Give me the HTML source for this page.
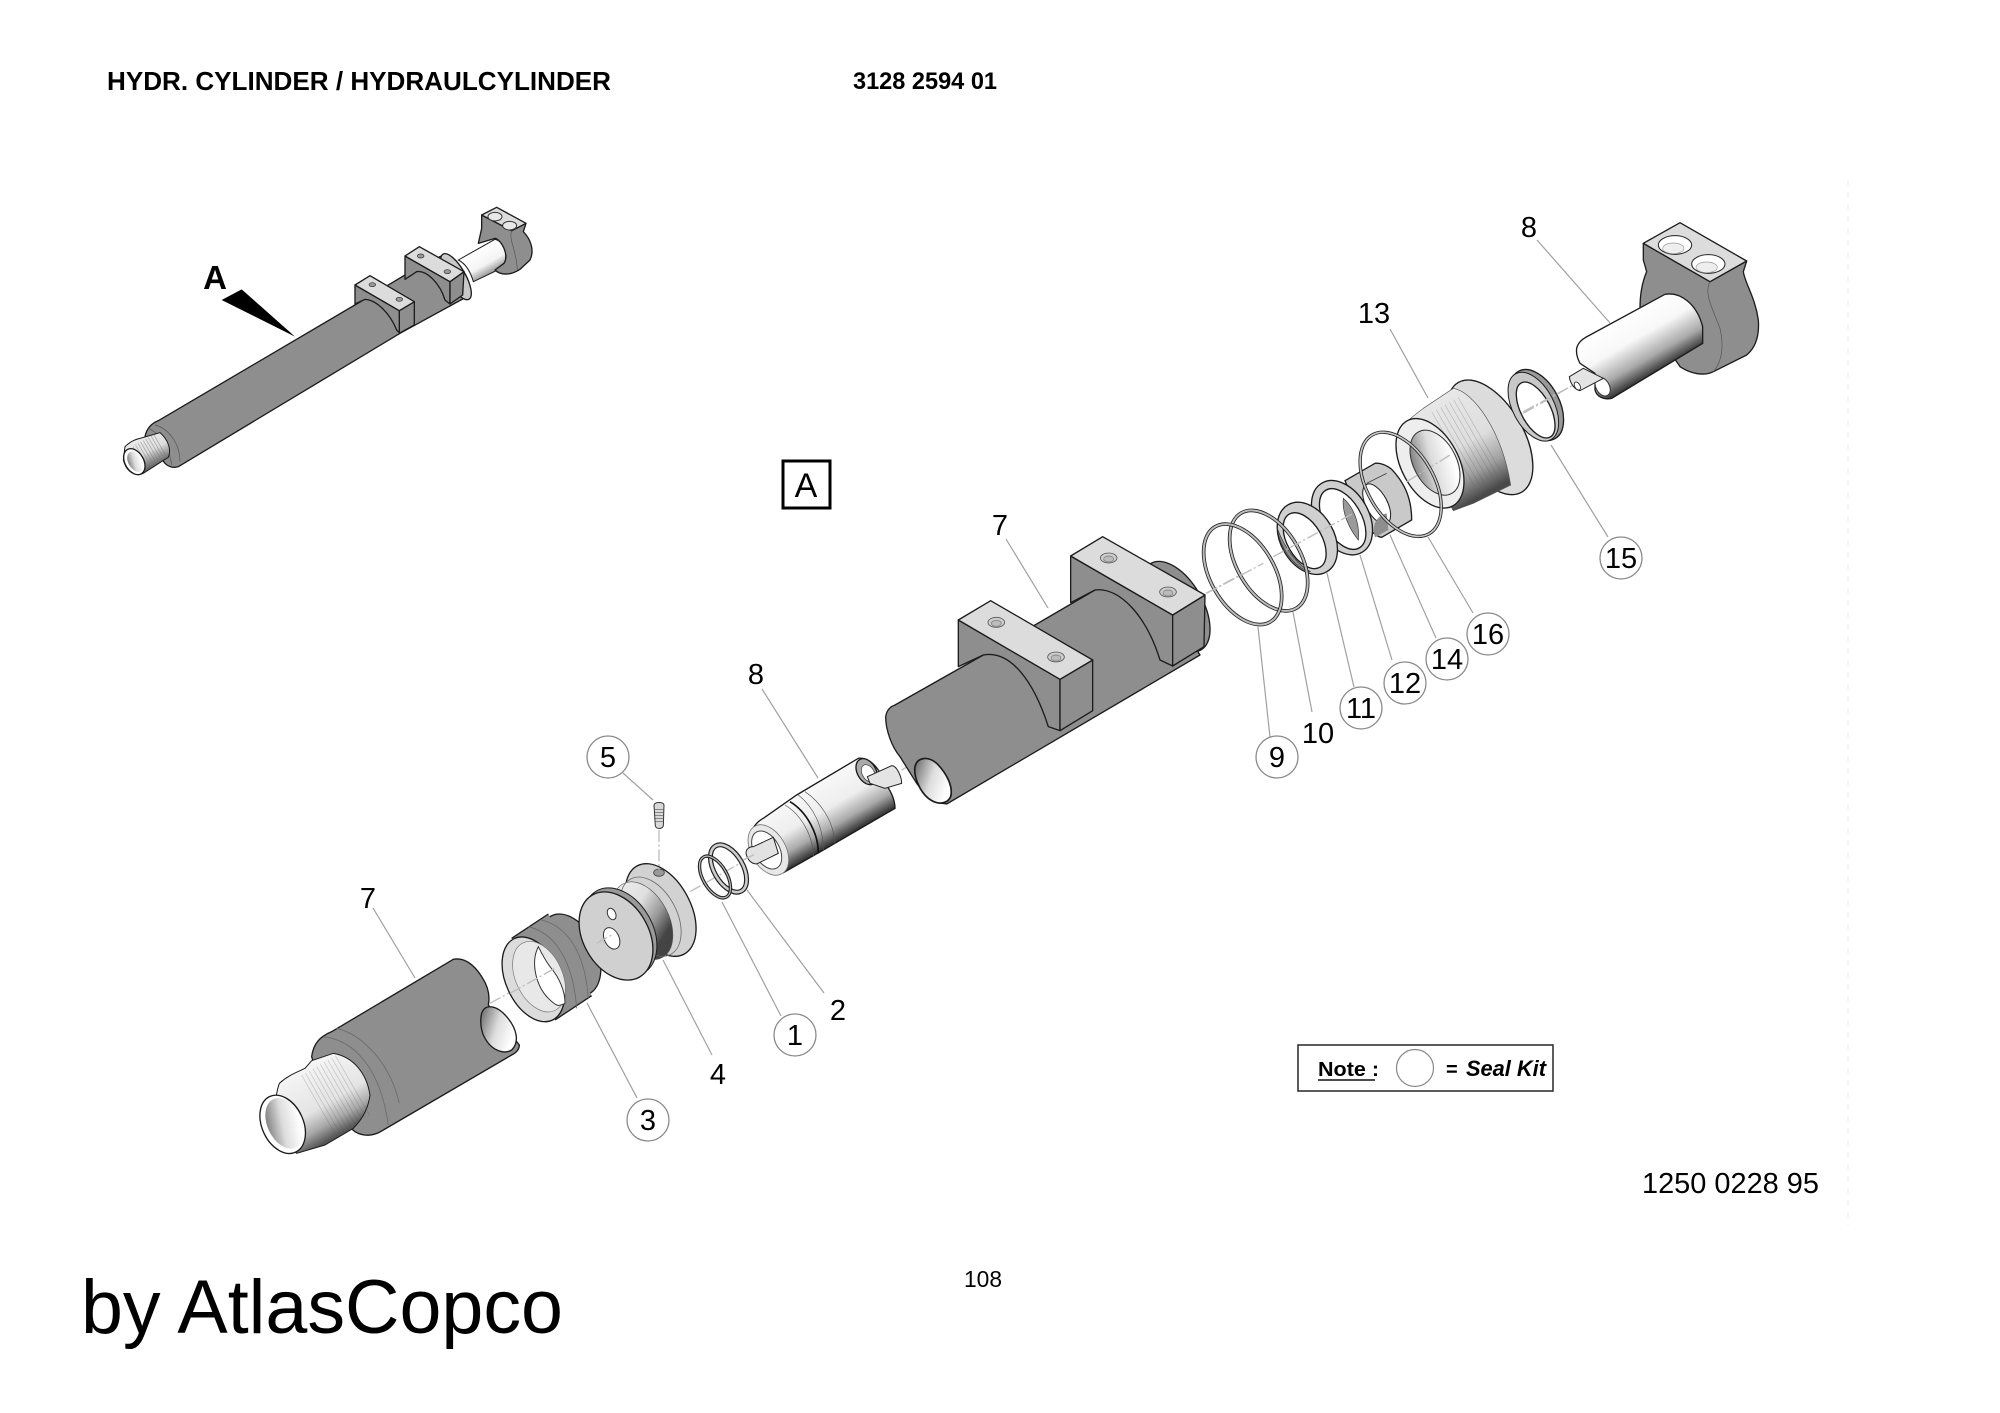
<!DOCTYPE html>
<html><head><meta charset="utf-8"><style>
html,body{margin:0;padding:0;background:#fff;width:2000px;height:1413px;overflow:hidden}
svg{display:block}
text{font-family:"Liberation Sans",sans-serif;fill:#000}
.n{font-size:29px;text-anchor:middle}
.c{fill:#fff;stroke:#8a8a8a;stroke-width:1.3}
.l{stroke:#a0a0a0;stroke-width:1.2;fill:none}
.d{stroke:#bdbdbd;stroke-width:4;stroke-dasharray:36 8 6 8;fill:none}
.g{fill:#8e8e8e;stroke:#1c1c1c;stroke-width:4;stroke-linejoin:round}
.t{fill:#dcdcdc;stroke:#1c1c1c;stroke-width:4;stroke-linejoin:round}
.m{fill:#c9c9c9;stroke:#1c1c1c;stroke-width:4}
.w{fill:#fff;stroke:#1c1c1c;stroke-width:4}
.s{fill:none;stroke:#555;stroke-width:2}
.o{fill:none;stroke:#6b6b6b;stroke-width:2.5}
</style></head><body>
<svg width="2000" height="1413" viewBox="0 0 2000 1413" xmlns="http://www.w3.org/2000/svg">
<defs>
<linearGradient id="hole" x1="0" y1="0" x2="1" y2=".4"><stop offset="0" stop-color="#666"/><stop offset=".55" stop-color="#ddd"/><stop offset="1" stop-color="#fff"/></linearGradient>
<linearGradient id="ovr" gradientUnits="userSpaceOnUse" x1="1190" y1="210" x2="1235" y2="290"><stop offset="0" stop-color="#fff"/><stop offset=".55" stop-color="#f4f4f4"/><stop offset="1" stop-color="#777"/></linearGradient>
<linearGradient id="ovt" gradientUnits="userSpaceOnUse" x1="170" y1="770" x2="215" y2="860"><stop offset="0" stop-color="#eee"/><stop offset=".55" stop-color="#ddd"/><stop offset="1" stop-color="#666"/></linearGradient>
<linearGradient id="t7" gradientUnits="userSpaceOnUse" x1="200" y1="1045" x2="310" y2="1236"><stop offset="0" stop-color="#f4f4f4"/><stop offset=".55" stop-color="#e4e4e4"/><stop offset=".8" stop-color="#a8a8a8"/><stop offset="1" stop-color="#555"/></linearGradient>
<linearGradient id="p4" gradientUnits="userSpaceOnUse" x1="1170" y1="470" x2="1275" y2="655"><stop offset="0" stop-color="#eee"/><stop offset=".45" stop-color="#e0e0e0"/><stop offset=".75" stop-color="#9a9a9a"/><stop offset="1" stop-color="#444"/></linearGradient>
<linearGradient id="r8" gradientUnits="userSpaceOnUse" x1="300" y1="845" x2="390" y2="1001"><stop offset="0" stop-color="#f8f8f8"/><stop offset=".45" stop-color="#eee"/><stop offset=".75" stop-color="#aaa"/><stop offset="1" stop-color="#333"/></linearGradient>
<linearGradient id="r8t" gradientUnits="userSpaceOnUse" x1="330" y1="405" x2="428" y2="575"><stop offset="0" stop-color="#fff"/><stop offset=".4" stop-color="#f8f8f8"/><stop offset=".75" stop-color="#aaa"/><stop offset="1" stop-color="#333"/></linearGradient>
<linearGradient id="b13" gradientUnits="userSpaceOnUse" x1="780" y1="120" x2="940" y2="400"><stop offset="0" stop-color="#e8e8e8"/><stop offset=".5" stop-color="#dedede"/><stop offset=".78" stop-color="#a0a0a0"/><stop offset="1" stop-color="#4a4a4a"/></linearGradient>
</defs>
<rect width="2000" height="1413" fill="#fff"/>
<line x1="1848" y1="180" x2="1848" y2="1225" stroke="#f6f6f6" stroke-width="2" stroke-dasharray="6 6"/>

<!-- header -->
<text x="107" y="90" font-size="26" font-weight="700" textLength="504" lengthAdjust="spacingAndGlyphs">HYDR. CYLINDER / HYDRAULCYLINDER</text>
<text x="853" y="89" font-size="24" font-weight="700" textLength="144" lengthAdjust="spacingAndGlyphs">3128 2594 01</text>

<!-- overview -->
<g transform="translate(80,180) scale(.33333)">
<path class="g" d="M195,770C200,745 215,730 235,722L850,360L1000,270L1090,225L1170,345L960,460L295,860C280,865 265,860 255,850Z"/>
<path class="s" d="M225,735C265,745 300,790 300,845M205,745C240,760 270,810 275,855"/>
<path d="M135,800C150,785 165,778 180,775L240,758C265,780 275,810 265,832L190,880C170,890 140,880 130,840Z" fill="url(#ovt)" stroke="#1c1c1c" stroke-width="3"/>
<path d="M175,830L245,790" stroke="#666" stroke-width="70" stroke-dasharray="2 7" fill="none" opacity=".5"/>
<ellipse class="w" cx="163" cy="845" rx="28" ry="42" transform="rotate(-30 163 845)"/>
<ellipse cx="166" cy="845" rx="21" ry="33" fill="url(#hole)" transform="rotate(-30 166 845)"/>
<ellipse class="m" cx="1128" cy="290" rx="28" ry="78" transform="rotate(-30 1128 290)"/>
<path d="M1135,240L1245,178C1275,185 1285,225 1270,262L1180,305C1170,270 1155,250 1135,240Z" fill="url(#ovr)" stroke="#1c1c1c" stroke-width="3"/>
<path class="g" d="M1205,105L1205,145L1195,190L1245,175C1265,180 1288,225 1272,250L1245,270C1260,285 1290,288 1320,268L1350,240C1365,210 1350,175 1330,155L1338,130L1295,152Z"/>
<path class="t" d="M1205,105L1250,82L1338,130L1295,152Z"/>
<ellipse cx="1245" cy="110" rx="21" ry="13" fill="#e8e8e8" stroke="#333" stroke-width="3"/>
<ellipse cx="1289" cy="137" rx="21" ry="13" fill="#e8e8e8" stroke="#333" stroke-width="3"/>
<path class="s" d="M1295,152C1285,180 1310,210 1312,270"/>
<path class="g" d="M975,228L975,298L1010,275C1040,270 1080,310 1095,360L1110,372L1110,305Z"/>
<path class="g" d="M1110,305L1152,275L1148,345L1110,372Z"/>
<path class="t" d="M975,228L1018,200L1152,275L1110,305Z"/>
<ellipse cx="1022" cy="228" rx="10" ry="6" fill="#999" stroke="#333" stroke-width="2"/>
<ellipse cx="1102" cy="275" rx="10" ry="6" fill="#999" stroke="#333" stroke-width="2"/>
<path class="g" d="M825,315L825,372L855,358C890,360 930,400 950,450L960,460L958,392Z"/>
<path class="g" d="M958,392L1003,365L1003,435L958,460Z"/>
<path class="t" d="M825,315L870,287L1003,365L958,392Z"/>
<ellipse cx="877" cy="314" rx="10" ry="6" fill="#999" stroke="#333" stroke-width="2"/>
<ellipse cx="958" cy="358" rx="10" ry="6" fill="#999" stroke="#333" stroke-width="2"/>
<path d="M425,360L485,328L645,470Z" fill="#000"/>
</g>
<text x="215" y="289" font-size="33" font-weight="700" text-anchor="middle">A</text>

<!-- boxed A -->
<rect x="783" y="461" width="47" height="47" fill="#fff" stroke="#000" stroke-width="3"/>
<text x="806" y="497" font-size="34" text-anchor="middle">A</text>

<!-- lower cylinder, ring 3, piston, screw -->
<g transform="translate(240,720) scale(.33333)">
<path class="d" d="M750,850L950,740"/>
<path class="g" d="M215,1010C220,970 240,950 275,935L640,718C670,712 700,730 725,770C745,800 750,830 745,855L838,975C838,990 825,1000 815,1005L430,1230C400,1250 370,1250 345,1235C300,1200 240,1100 215,1010Z"/>
<path class="o" d="M250,950C340,960 420,1040 445,1215M290,925C370,945 450,1030 478,1150"/>
<path class="w" d="M725,880C735,850 770,855 800,890C830,925 840,965 815,990C790,1005 750,990 730,945C722,925 720,900 725,880Z" style="fill:url(#hole)"/>
<path d="M118,1090C145,1065 175,1055 195,1045L215,1022L280,1000C340,1010 380,1060 390,1125C385,1165 365,1200 340,1225L255,1275L170,1300C120,1260 90,1170 118,1090Z" fill="url(#t7)" stroke="#1c1c1c" stroke-width="3"/>
<path d="M235,1155L345,1092" stroke="#555" stroke-width="205" stroke-dasharray="2 11" fill="none" opacity=".3"/>
<ellipse class="w" cx="128" cy="1213" rx="62" ry="92" transform="rotate(-25 128 1213)"/>
<ellipse cx="134" cy="1210" rx="52" ry="80" fill="url(#hole)" transform="rotate(-25 134 1210)"/>

<!-- ring 3 -->
<ellipse class="g" cx="990" cy="705" rx="82" ry="130" transform="rotate(-25 990 705)"/>
<path d="M815,655L925,582L1055,827L945,900Z" fill="#8e8e8e"/>
<path d="M815,655L925,582M945,900L1055,827" stroke="#1c1c1c" stroke-width="4"/>
<path class="o" d="M865,620C950,640 1000,730 1010,865M905,600C985,620 1035,700 1045,835"/>
<ellipse class="t" cx="880" cy="778" rx="82" ry="135" transform="rotate(-25 880 778)"/>
<ellipse cx="897" cy="770" rx="70" ry="112" fill="#e8e8e8" stroke="#777" stroke-width="2" transform="rotate(-25 897 770)"/>
<path d="M895,680C905,700 915,720 930,740C960,775 975,815 975,850C955,860 950,860 925,835C890,800 870,730 895,680Z" fill="#fff" stroke="#333" stroke-width="3"/>
<path class="d" d="M810,820L950,742"/>

<!-- piston 4 -->
<ellipse cx="1262" cy="570" rx="90" ry="150" fill="#d2d2d2" stroke="#1c1c1c" stroke-width="4" transform="rotate(-28 1262 570)"/>
<ellipse cx="1208" cy="602" rx="78" ry="125" fill="url(#p4)" stroke="#555" stroke-width="2" transform="rotate(-28 1208 602)"/>
<ellipse class="o" cx="1232" cy="590" rx="78" ry="128" transform="rotate(-28 1232 590)"/>
<ellipse cx="1140" cy="636" rx="98" ry="142" fill="#999" stroke="#1c1c1c" stroke-width="3" transform="rotate(-30 1140 636)"/>
<ellipse cx="1128" cy="648" rx="98" ry="142" fill="#d0d0d0" stroke="#1c1c1c" stroke-width="4" transform="rotate(-30 1128 648)"/>
<ellipse cx="1115" cy="582" rx="12" ry="18" fill="#fff" stroke="#333" stroke-width="3" transform="rotate(-25 1115 582)"/>
<ellipse cx="1115" cy="655" rx="22" ry="34" fill="#fff" stroke="#333" stroke-width="3" transform="rotate(-25 1115 655)"/>
<ellipse cx="1257" cy="458" rx="16" ry="11" fill="#999" stroke="#444" stroke-width="2.5"/>
<path class="d" d="M1070,670L1120,642"/>
<path class="d" d="M1257,330L1257,448"/>
<path class="d" d="M1350,515L1500,430"/>
<path d="M1242,255C1245,245 1270,245 1272,255L1270,318C1265,328 1250,328 1246,318Z" fill="#d8d8d8" stroke="#333" stroke-width="3"/>
<path d="M1245,268L1271,268M1245,277L1271,277M1245,286L1271,286M1245,295L1271,295M1245,304L1271,304" stroke="#555" stroke-width="2"/>
</g>

<!-- rings 1,2 -->
<g fill="none">
<ellipse cx="728.5" cy="868.5" rx="14.5" ry="26" stroke="#222" stroke-width="5" transform="rotate(-30 728.5 868.5)"/>
<ellipse cx="728.5" cy="868.5" rx="14.5" ry="26" stroke="#ccc" stroke-width="2.6" transform="rotate(-30 728.5 868.5)"/>
<ellipse cx="715" cy="877" rx="12" ry="23" stroke="#222" stroke-width="3.4" transform="rotate(-30 715 877)"/>
<ellipse cx="715" cy="877" rx="12" ry="23" stroke="#bbb" stroke-width="1.2" transform="rotate(-30 715 877)"/>
</g>

<!-- rod 8 lower + upper 7 -->
<g transform="translate(720,500) scale(.33333)">
<path class="d" d="M545,810L610,772"/>
<ellipse class="g" cx="1368" cy="320" rx="80" ry="150" transform="rotate(-30 1368 320)"/>
<path class="g" d="M497,650C500,630 510,620 525,615L790,465L945,375L1125,270L1300,250L1440,465L680,912C650,910 620,890 590,850L540,770C515,740 497,690 497,650Z"/>
<path d="M585,800C590,775 620,765 650,790C680,820 700,860 692,890C680,915 650,915 625,895C600,875 580,830 585,800Z" fill="url(#hole)" stroke="#1c1c1c" stroke-width="5"/>
<path class="g" d="M715,360L715,500L790,465C870,450 940,540 985,680L1020,692L1020,538Z"/>
<path class="g" d="M1020,538L1118,480L1118,632L1020,692Z"/>
<path class="t" d="M715,360L812,302L1118,480L1020,538Z"/>
<ellipse cx="829" cy="367" rx="25" ry="15" fill="#ccc" stroke="#555" stroke-width="2.5"/>
<ellipse cx="829" cy="370" rx="15" ry="9" fill="#bbb" stroke="#777" stroke-width="2"/>
<ellipse cx="1008" cy="471" rx="25" ry="15" fill="#ccc" stroke="#555" stroke-width="2.5"/>
<ellipse cx="1008" cy="474" rx="15" ry="9" fill="#bbb" stroke="#777" stroke-width="2"/>
<path class="g" d="M1052,168L1052,308L1125,270C1200,260 1280,350 1320,480L1358,498L1358,345Z"/>
<path class="g" d="M1358,345L1455,285L1452,440L1358,498Z"/>
<path class="t" d="M1052,168L1148,110L1455,285L1358,345Z"/>
<ellipse cx="1166" cy="174" rx="25" ry="15" fill="#ccc" stroke="#555" stroke-width="2.5"/>
<ellipse cx="1166" cy="177" rx="15" ry="9" fill="#bbb" stroke="#777" stroke-width="2"/>
<ellipse cx="1344" cy="276" rx="25" ry="15" fill="#ccc" stroke="#555" stroke-width="2.5"/>
<ellipse cx="1344" cy="279" rx="15" ry="9" fill="#bbb" stroke="#777" stroke-width="2"/>
<path class="d" d="M1458,280L1560,225"/>

<path d="M90,1010C95,985 110,965 130,955L230,885L415,775C445,770 475,800 490,840C510,870 525,895 525,925L310,1050L190,1118C150,1120 100,1080 90,1010Z" fill="url(#r8)" stroke="#1c1c1c" stroke-width="4"/>
<path class="s" d="M235,885C280,920 310,980 310,1050M195,915C245,945 280,1010 280,1070M255,875C300,905 340,960 345,1030" />
<path d="M210,905C260,935 295,1000 295,1060" fill="none" stroke="#111" stroke-width="5"/>
<ellipse cx="145" cy="1050" rx="52" ry="82" fill="#e8e8e8" stroke="#777" stroke-width="2.5" transform="rotate(-30 145 1050)"/>
<ellipse cx="140" cy="1050" rx="38" ry="62" fill="#fff" stroke="#444" stroke-width="3" transform="rotate(-30 140 1050)"/>
<path d="M78,1060C78,1045 90,1040 100,1040L160,1012L175,1060L110,1092C95,1092 82,1080 78,1060Z" fill="#e2e2e2" stroke="#222" stroke-width="3"/>
<ellipse cx="440" cy="815" rx="28" ry="42" fill="#aaa" stroke="#1c1c1c" stroke-width="4" transform="rotate(-30 440 815)"/>
<ellipse cx="445" cy="820" rx="18" ry="28" fill="#fff" stroke="#333" stroke-width="2" transform="rotate(-30 445 820)"/>
<path d="M442,830L515,797C530,797 545,830 545,850L495,865L450,850Z" fill="#e4e4e4" stroke="#222" stroke-width="3"/>
<path class="d" d="M70,1080L110,1060"/>
</g>

<!-- seal rings + head -->
<g transform="translate(1190,350) scale(.33333)">
<ellipse cx="900" cy="262" rx="100" ry="190" fill="#dcdcdc" stroke="#1c1c1c" stroke-width="4" transform="rotate(-30 900 262)"/>
<path d="M640,225C660,205 680,190 700,175L790,115C850,125 935,240 962,405L850,460L790,482Z" fill="url(#b13)" stroke="#555" stroke-width="2"/>
<path d="M790,300L870,254" stroke="#555" stroke-width="260" stroke-dasharray="2 13" fill="none" opacity=".3"/>
<ellipse cx="720" cy="340" rx="86" ry="145" fill="#eee" stroke="#1c1c1c" stroke-width="4" transform="rotate(-28 720 340)"/>
<ellipse cx="735" cy="338" rx="64" ry="105" fill="url(#hole)" stroke="#333" stroke-width="3" transform="rotate(-28 735 338)"/>
<path class="d" d="M650,395L785,312"/>

<ellipse cx="1040" cy="165" rx="68" ry="115" fill="#999" stroke="#1c1c1c" stroke-width="4" transform="rotate(-28 1040 165)"/>
<ellipse cx="1030" cy="170" rx="62" ry="112" fill="#c8c8c8" stroke="#1c1c1c" stroke-width="3" transform="rotate(-28 1030 170)"/>
<ellipse cx="1037" cy="180" rx="44" ry="92" fill="#fff" stroke="#1c1c1c" stroke-width="4" transform="rotate(-28 1037 180)"/>
<path class="d" d="M1000,190L1150,105"/>

<path d="M465,392L555,340C570,338 590,345 605,358C640,395 665,440 665,510L575,562C540,560 500,480 465,392Z" fill="#c9c9c9" stroke="#1c1c1c" stroke-width="4"/>
<path d="M530,400L590,370" stroke="#222" stroke-width="2" fill="none"/>
<ellipse cx="560" cy="462" rx="32" ry="66" fill="#fff" stroke="#1c1c1c" stroke-width="3" transform="rotate(-28 560 462)"/>
<path d="M590,490L595,540L555,562C545,530 555,500 590,490Z" fill="#8e8e8e"/>
<ellipse cx="632" cy="403" rx="100" ry="171" fill="none" stroke="#222" stroke-width="10" transform="rotate(-30 632 403)"/>
<ellipse cx="632" cy="403" rx="100" ry="171" fill="none" stroke="#c6c6c6" stroke-width="5" transform="rotate(-30 632 403)"/>

<ellipse cx="456" cy="503" rx="80" ry="120" fill="#cfcfcf" stroke="#1c1c1c" stroke-width="4" transform="rotate(-30 456 503)"/>
<ellipse cx="458" cy="507" rx="56" ry="100" fill="#fff" stroke="#1c1c1c" stroke-width="4" transform="rotate(-30 458 507)"/>
<path d="M460,445C490,470 510,520 505,570C480,540 455,490 460,445Z" fill="#9a9a9a" stroke="#333" stroke-width="2"/>

<ellipse cx="352" cy="565" rx="80" ry="116" fill="#d0d0d0" stroke="#1c1c1c" stroke-width="4" transform="rotate(-30 352 565)"/>
<ellipse cx="344" cy="572" rx="52" ry="92" fill="#fff" stroke="#1c1c1c" stroke-width="4" transform="rotate(-30 344 572)"/>
<path d="M262,535C285,600 330,650 362,665C320,660 270,600 262,535Z" fill="#8e8e8e" stroke="#333" stroke-width="2"/>

<ellipse cx="236" cy="632" rx="96" ry="165" fill="none" stroke="#222" stroke-width="11" transform="rotate(-30 236 632)"/>
<ellipse cx="236" cy="632" rx="96" ry="165" fill="none" stroke="#bdbdbd" stroke-width="6" transform="rotate(-30 236 632)"/>
<ellipse cx="158" cy="673" rx="96" ry="165" fill="none" stroke="#222" stroke-width="11" transform="rotate(-30 158 673)"/>
<ellipse cx="158" cy="673" rx="96" ry="165" fill="none" stroke="#bdbdbd" stroke-width="6" transform="rotate(-30 158 673)"/>
<path class="d" d="M50,730L220,640M250,620L490,490"/>
</g>

<g transform="translate(1480,200) scale(.33333)">
<path class="g" d="M490,130L490,180L500,215C485,250 480,290 480,325L600,500C630,520 670,530 700,515L800,465C830,440 838,400 835,360C825,290 795,250 790,215L800,183L690,245Z"/>
<path class="t" d="M490,130L600,68L800,183L690,245Z"/>
<ellipse cx="585" cy="135" rx="50" ry="28" fill="#fff" stroke="#222" stroke-width="3"/>
<ellipse cx="580" cy="145" rx="32" ry="16" fill="#eee" stroke="#999" stroke-width="2"/>
<ellipse cx="685" cy="192" rx="50" ry="28" fill="#fff" stroke="#222" stroke-width="3"/>
<ellipse cx="680" cy="202" rx="32" ry="16" fill="#eee" stroke="#999" stroke-width="2"/>
<path class="s" d="M690,245C670,280 700,330 720,385C730,430 730,480 700,515"/>
<path d="M290,445C295,425 310,415 330,405L555,283C600,275 650,310 668,380L668,430L395,595C370,600 350,590 345,570L345,520L300,490C292,475 288,460 290,445Z" fill="url(#r8t)" stroke="#1c1c1c" stroke-width="4"/>
<ellipse cx="368" cy="560" rx="20" ry="30" fill="#fff" stroke="#333" stroke-width="3" transform="rotate(-30 368 560)"/>
<path d="M268,530L310,505L370,535L300,572C285,570 270,550 268,530Z" fill="#e4e4e4" stroke="#222" stroke-width="3"/>
<ellipse cx="292" cy="558" rx="8" ry="13" fill="#fff" stroke="#222" stroke-width="2.5" transform="rotate(-30 292 558)"/>
<path class="d" d="M130,635L280,555"/>
</g>

<!-- leader lines -->
<path class="l" d="M373,908L415,978M623,773L653,800M587,1003L637,1098M663,960L712,1055"/>
<path class="l" d="M1006,539L1048,608M762,689L818,778M747,890L824,993M722,902L781,1016"/>
<path class="l" d="M1258,627L1270,737M1293,612L1312,712M1327,573L1354,687M1360,555L1392,660M1390,535L1436,638M1428,537L1473,613"/>
<path class="l" d="M1390,329L1428,398M1551,445L1608,537M1537,240L1610,323"/>

<!-- callouts -->
<circle class="c" cx="608" cy="757" r="21"/><text class="n" x="608" y="767">5</text>
<circle class="c" cx="648" cy="1120" r="21"/><text class="n" x="648" y="1130">3</text>
<circle class="c" cx="795" cy="1035" r="21"/><text class="n" x="795" y="1045">1</text>
<circle class="c" cx="1277" cy="757" r="21"/><text class="n" x="1277" y="767">9</text>
<circle class="c" cx="1361" cy="708" r="21"/><text class="n" x="1361" y="718">11</text>
<circle class="c" cx="1405" cy="683" r="21"/><text class="n" x="1405" y="693">12</text>
<circle class="c" cx="1447" cy="659" r="21"/><text class="n" x="1447" y="669">14</text>
<circle class="c" cx="1488" cy="634" r="21"/><text class="n" x="1488" y="644">16</text>
<circle class="c" cx="1621" cy="558" r="21"/><text class="n" x="1621" y="568">15</text>
<text class="n" x="368" y="908">7</text>
<text class="n" x="718" y="1084">4</text>
<text class="n" x="838" y="1020">2</text>
<text class="n" x="1000" y="535">7</text>
<text class="n" x="756" y="684">8</text>
<text class="n" x="1318" y="743">10</text>
<text class="n" x="1374" y="323">13</text>
<text class="n" x="1529" y="237">8</text>

<!-- note -->
<rect x="1298" y="1045" width="255" height="46" fill="#fff" stroke="#333" stroke-width="1.6"/>
<text x="1318" y="1076" font-size="20" font-weight="700" textLength="61" lengthAdjust="spacingAndGlyphs">Note :</text>
<line x1="1318" y1="1080" x2="1375" y2="1080" stroke="#111" stroke-width="1.4"/>
<ellipse cx="1415" cy="1068" rx="18.5" ry="18.5" fill="#fff" stroke="#8a8a8a" stroke-width="1.2"/>
<text x="1446" y="1076" font-size="20" font-weight="700" textLength="13">=</text>
<text x="1466" y="1076" font-size="22" font-weight="700" font-style="italic" textLength="80" lengthAdjust="spacingAndGlyphs">Seal Kit</text>
<text x="1642" y="1193" font-size="29" textLength="177" lengthAdjust="spacingAndGlyphs">1250 0228 95</text>
<text x="964" y="1287" font-size="23" textLength="38" lengthAdjust="spacingAndGlyphs">108</text>
<text x="81" y="1333" font-size="76" textLength="482" lengthAdjust="spacingAndGlyphs">by AtlasCopco</text>
</svg>
</body></html>
